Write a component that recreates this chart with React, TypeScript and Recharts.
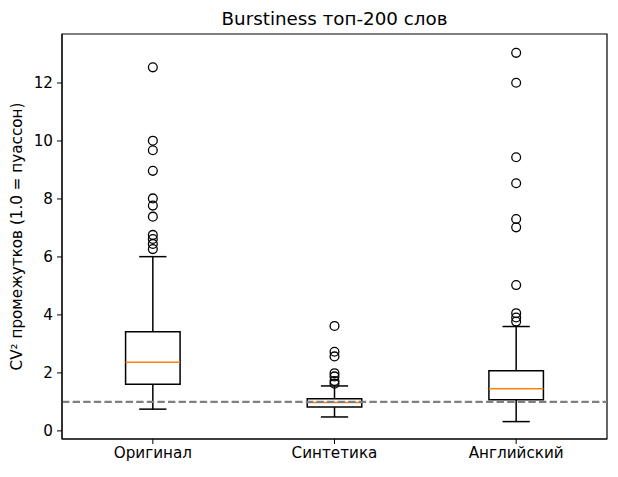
import { ComposedChart, XAxis, YAxis, Scatter, ReferenceArea, ReferenceLine } from "recharts";

const categories = ["Оригинал", "Синтетика", "Английский"];
const q1s = [1.61, 0.82, 1.07];
const medians = [2.37, 0.98, 1.45];
const q3s = [3.42, 1.11, 2.07];
const whiskerLows = [0.75, 0.48, 0.32];
const whiskerHighs = [6.01, 1.55, 3.6];
const outliersOriginal = [12.54, 10.01, 9.68, 8.97, 8.02, 7.77, 7.39, 6.76, 6.62, 6.45, 6.27];
const outliersSynthetic = [3.62, 2.73, 2.57, 1.99, 1.88, 1.72, 1.63];
const outliersEnglish = [13.04, 12.01, 9.44, 8.54, 7.31, 7.02, 5.03, 4.06, 3.91, 3.77];
const yTicks = [0, 2, 4, 6, 8, 10, 12];

const outlierLists = [outliersOriginal, outliersSynthetic, outliersEnglish];
const fliers = outlierLists.flatMap((list, i) => list.map((v) => ({ x: i + 1, y: v })));

const BOX_HALF = 0.15;
const CAP_HALF = 0.075;
const FONT = "'DejaVu Sans', sans-serif";
const TICK_FS = 15.2;
const LW = 1.5;

function Flier(props: any) {
  return <circle cx={props.cx} cy={props.cy} r={4.4} fill="none" stroke="#000" strokeWidth={1.3} />;
}

export default function App() {
  const boxes = categories.flatMap((_, i) => {
    const p = i + 1;
    return [
      <ReferenceArea
        key={`box-${i}`}
        x1={p - BOX_HALF}
        x2={p + BOX_HALF}
        y1={q1s[i]}
        y2={q3s[i]}
        fill="none"
        stroke="#000"
        strokeWidth={LW}
        strokeOpacity={1}
      />,
      <ReferenceLine
        key={`wl-${i}`}
        segment={[{ x: p, y: whiskerLows[i] }, { x: p, y: q1s[i] }]}
        stroke="#000"
        strokeWidth={LW}
      />,
      <ReferenceLine
        key={`wh-${i}`}
        segment={[{ x: p, y: q3s[i] }, { x: p, y: whiskerHighs[i] }]}
        stroke="#000"
        strokeWidth={LW}
      />,
      <ReferenceLine
        key={`cl-${i}`}
        segment={[{ x: p - CAP_HALF, y: whiskerLows[i] }, { x: p + CAP_HALF, y: whiskerLows[i] }]}
        stroke="#000"
        strokeWidth={LW}
      />,
      <ReferenceLine
        key={`ch-${i}`}
        segment={[{ x: p - CAP_HALF, y: whiskerHighs[i] }, { x: p + CAP_HALF, y: whiskerHighs[i] }]}
        stroke="#000"
        strokeWidth={LW}
      />,
      <ReferenceLine
        key={`med-${i}`}
        segment={[{ x: p - BOX_HALF, y: medians[i] }, { x: p + BOX_HALF, y: medians[i] }]}
        stroke="#ff7f0e"
        strokeWidth={LW}
      />,
    ];
  });

  return (
    <div style={{ position: "absolute", left: 0, top: 0, width: 618, height: 477, background: "#fff", fontFamily: FONT }}>
      <div
        style={{
          position: "absolute",
          left: 62,
          width: 545,
          top: 7,
          textAlign: "center",
          fontSize: 18.3,
          lineHeight: "24px",
          color: "#000",
        }}
      >
        Burstiness топ-200 слов
      </div>
      <ComposedChart width={618} height={477} margin={{ top: 34, right: 11, left: 0, bottom: 0 }}>
        <XAxis
          type="number"
          dataKey="x"
          domain={[0.5, 3.5]}
          allowDataOverflow
          ticks={[1, 2, 3]}
          tickFormatter={(v: number) => categories[v - 1]}
          height={38}
          tickSize={5}
          tickMargin={3}
          stroke="#000"
          tick={{ fill: "#000", fontSize: TICK_FS, fontFamily: FONT }}
        />
        <YAxis
          type="number"
          dataKey="y"
          domain={[-0.28, 13.69]}
          allowDataOverflow
          ticks={yTicks}
          width={62}
          tickSize={5}
          tickMargin={4}
          stroke="#000"
          tick={{ fill: "#000", fontSize: TICK_FS, fontFamily: FONT }}
          label={{
            content: (props: any) => {
              const vb = props.viewBox || { y: 34, height: 405 };
              const cy = vb.y + vb.height / 2;
              return (
                <text
                  x={17}
                  y={cy}
                  transform={`rotate(-90, 17, ${cy})`}
                  textAnchor="middle"
                  dominantBaseline="central"
                  fontSize={TICK_FS}
                  fontFamily={FONT}
                  fill="#000"
                >
                  CV² промежутков (1.0 = пуассон)
                </text>
              );
            },
          }}
        />
        <ReferenceArea x1={0.5} x2={3.5} y1={-0.28} y2={13.69} fill="none" stroke="#000" strokeWidth={1.2} strokeOpacity={1} />
        {boxes}
        <Scatter data={fliers} shape={<Flier />} isAnimationActive={false} />
        <ReferenceLine y={1} stroke="#808080" strokeWidth={2.1} strokeDasharray="7.4 3.2" />
      </ComposedChart>
    </div>
  );
}
